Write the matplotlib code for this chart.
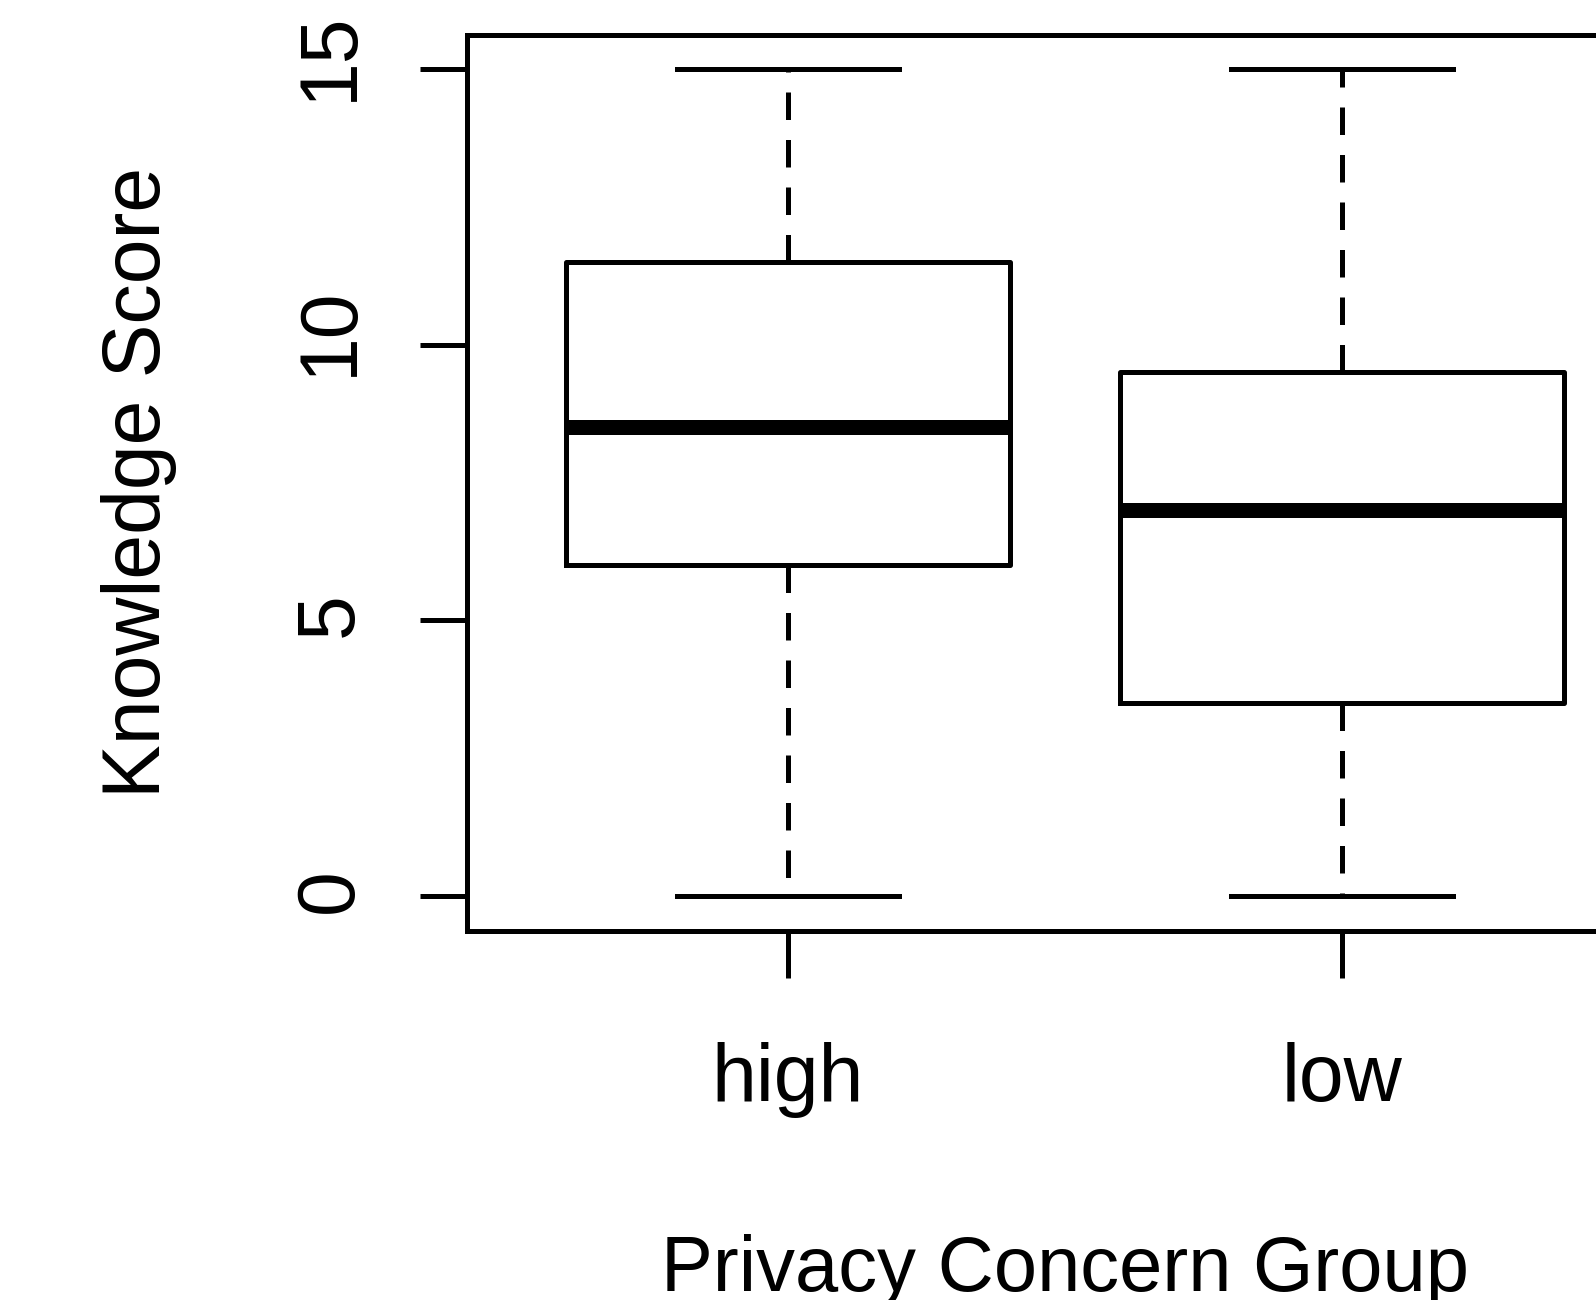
import matplotlib
matplotlib.use("Agg")
import matplotlib.pyplot as plt
from matplotlib.transforms import ScaledTranslation

# five-number summaries
groups = ["high", "low"]
q1 = [6.0, 3.5]
med = [8.5, 7.0]
q3 = [11.5, 9.5]
whislo = [0.0, 0.0]
whishi = [15.0, 15.0]
yticks = [0, 5, 10, 15]

LW = 3.6
font = ["Liberation Sans", "DejaVu Sans"]

stats = []
for i in range(len(groups)):
    stats.append({"label": groups[i], "q1": q1[i], "med": med[i], "q3": q3[i],
                  "whislo": whislo[i], "whishi": whishi[i], "fliers": []})

fig = plt.figure(figsize=(15.96, 13), dpi=100)
ax = fig.add_axes([466.5 / 1596, 1 - 930.5 / 1300, (1663.6 - 466.5) / 1596, 896 / 1300])

ax.bxp(stats, positions=[1, 2], widths=0.8, capwidths=0.4, showfliers=False,
       boxprops=dict(color="black", linewidth=LW),
       medianprops=dict(color="black", linewidth=10.8, solid_capstyle="butt"),
       whiskerprops=dict(color="black", linewidth=LW, linestyle=(0, (5.5, 4))),
       capprops=dict(color="black", linewidth=LW))

ax.set_xlim(0.42, 2.58)
ax.set_ylim(-0.63, 15.63)
for s in ax.spines.values():
    s.set_linewidth(LW)

ax.set_yticks(yticks)
ax.set_yticklabels([str(v) for v in yticks], rotation=90, va="center",
                   family=font, fontsize=58)
ax.set_xticks([1, 2])
ax.set_xticklabels(groups, family=font, fontsize=58)
ax.tick_params(axis="both", length=34, width=LW, color="black")
ax.tick_params(axis="x", pad=46)
ax.tick_params(axis="y", pad=36.5)

# R centres the rotated labels a little higher than matplotlib does
for v, tick in zip(yticks, ax.yaxis.get_major_ticks()):
    dy = 9.5 if v >= 10 else 4
    lab = tick.label1
    lab.set_transform(lab.get_transform() + ScaledTranslation(0, dy / 72, fig.dpi_scale_trans))

ax.set_xlabel("Privacy Concern Group", family=font, fontsize=56, labelpad=84)
ax.set_ylabel("Knowledge Score", family=font, fontsize=58, labelpad=83)

fig.savefig("out.png", dpi=100)
